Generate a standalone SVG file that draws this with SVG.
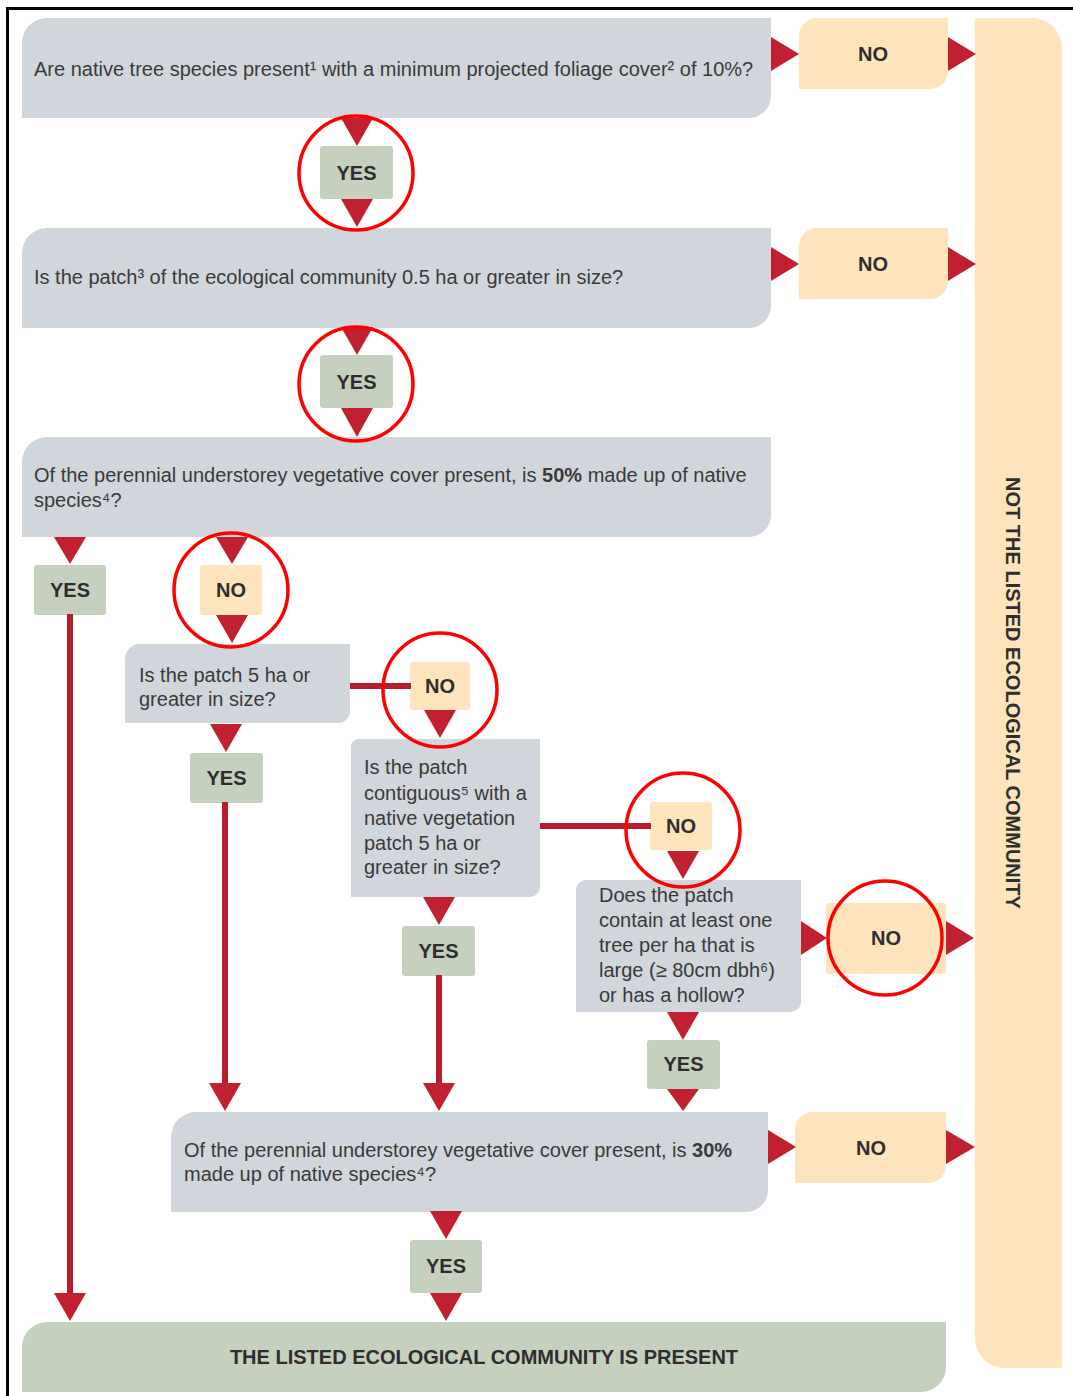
<svg xmlns="http://www.w3.org/2000/svg" width="1073" height="1396" viewBox="0 0 1073 1396">
<style>
.q{fill:#d1d5dc}
.no{fill:#fde4bc}
.yes{fill:#c6d0be}
.t{font-family:"Liberation Sans",Arial,sans-serif;font-size:20px;fill:#3a3a3a}
.l{font-family:"Liberation Sans",Arial,sans-serif;font-size:20px;font-weight:bold;fill:#2e2e2e;text-anchor:middle}
.b{font-weight:bold}
.tri{fill:#c0202f}
.ln{stroke:#b71e2d;stroke-width:6;fill:none}
.c{fill:none;stroke:#ff0000;stroke-width:3.5}
</style>
<rect x="0" y="0" width="1073" height="1396" fill="#ffffff"/>
<path d="M7.5,1396 V8.5 H1073" fill="none" stroke="#000" stroke-width="3"/>

<g id="not-listed">
<path class="no" d="M975,18 H1032 A30,30 0 0 1 1062,48 V1368 H1005 A30,30 0 0 1 975,1338 Z"/>
<text class="l" transform="translate(1013,693) rotate(90)" y="7">NOT THE LISTED ECOLOGICAL COMMUNITY</text>
</g>

<g id="q1">
<path class="q" d="M22,43 A25,25 0 0 1 47,18 H771 V96 A22,22 0 0 1 749,118 H22 Z"/>
<text class="t" x="34" y="76">Are native tree species present¹ with a minimum projected foliage cover² of 10%?</text>
</g>
<g id="no1">
<path class="no" d="M799,36 A18,18 0 0 1 817,18 H948 V71 A18,18 0 0 1 930,89 H799 Z"/>
<text class="l" x="873" y="61">NO</text>
</g>
<g id="yes1">
<rect class="yes" x="320" y="146" width="73" height="53" rx="3"/>
<text class="l" x="356.5" y="180">YES</text>
</g>

<g id="q2">
<path class="q" d="M22,253 A25,25 0 0 1 47,228 H771 V306 A22,22 0 0 1 749,328 H22 Z"/>
<text class="t" x="34" y="284">Is the patch³ of the ecological community 0.5 ha or greater in size?</text>
</g>
<g id="no2">
<path class="no" d="M799,246 A18,18 0 0 1 817,228 H948 V281 A18,18 0 0 1 930,299 H799 Z"/>
<text class="l" x="873" y="271">NO</text>
</g>
<g id="yes2">
<rect class="yes" x="320" y="355" width="73" height="53" rx="3"/>
<text class="l" x="356.5" y="389">YES</text>
</g>

<g id="q3">
<path class="q" d="M22,462 A25,25 0 0 1 47,437 H771 V515 A22,22 0 0 1 749,537 H22 Z"/>
<text class="t" x="34" y="482">Of the perennial understorey vegetative cover present, is <tspan class="b">50%</tspan> made up of native</text>
<text class="t" x="34" y="507">species⁴?</text>
</g>
<g id="yes3">
<rect class="yes" x="34" y="565" width="72" height="50" rx="3"/>
<text class="l" x="70" y="597">YES</text>
</g>
<g id="no3">
<rect class="no" x="200" y="565" width="62" height="50" rx="3"/>
<text class="l" x="231" y="597">NO</text>
</g>

<g id="q4">
<path class="q" d="M125,659 A15,15 0 0 1 140,644 H350 V711 A12,12 0 0 1 338,723 H125 Z"/>
<text class="t" x="139" y="682">Is the patch 5 ha or</text>
<text class="t" x="139" y="706">greater in size?</text>
</g>
<g id="no4">
<rect class="no" x="410" y="662" width="60" height="48" rx="3"/>
<text class="l" x="440" y="693">NO</text>
</g>
<g id="yes4">
<rect class="yes" x="190" y="753" width="73" height="50" rx="3"/>
<text class="l" x="226.5" y="785">YES</text>
</g>

<g id="q5">
<path class="q" d="M351,747 A8,8 0 0 1 359,739 H540 V887 A10,10 0 0 1 530,897 H351 Z"/>
<text class="t" x="364" y="774">Is the patch</text>
<text class="t" x="364" y="800">contiguous⁵ with a</text>
<text class="t" x="364" y="825">native vegetation</text>
<text class="t" x="364" y="850">patch 5 ha or</text>
<text class="t" x="364" y="874">greater in size?</text>
</g>
<g id="no5">
<rect class="no" x="650" y="802" width="62" height="48" rx="3"/>
<text class="l" x="681" y="833">NO</text>
</g>
<g id="yes5">
<rect class="yes" x="402" y="926" width="73" height="50" rx="3"/>
<text class="l" x="438.5" y="958">YES</text>
</g>

<g id="q6">
<path class="q" d="M576,890 A10,10 0 0 1 586,880 H801 V1002 A10,10 0 0 1 791,1012 H576 Z"/>
<text class="t" x="599" y="902">Does the patch</text>
<text class="t" x="599" y="927">contain at least one</text>
<text class="t" x="599" y="952">tree per ha that is</text>
<text class="t" x="599" y="977">large (≥ 80cm dbh⁶)</text>
<text class="t" x="599" y="1002">or has a hollow?</text>
</g>
<g id="no6">
<rect class="no" x="826" y="903" width="120" height="71" rx="3"/>
<text class="l" x="886" y="945">NO</text>
</g>
<g id="yes6">
<rect class="yes" x="647" y="1040" width="73" height="49" rx="3"/>
<text class="l" x="683.5" y="1071">YES</text>
</g>

<g id="q7">
<path class="q" d="M171,1137 A25,25 0 0 1 196,1112 H768 V1190 A22,22 0 0 1 746,1212 H171 Z"/>
<text class="t" x="184" y="1157">Of the perennial understorey vegetative cover present, is <tspan class="b">30%</tspan></text>
<text class="t" x="184" y="1181">made up of native species⁴?</text>
</g>
<g id="no7">
<path class="no" d="M795,1130 A18,18 0 0 1 813,1112 H946 V1165 A18,18 0 0 1 928,1183 H795 Z"/>
<text class="l" x="871" y="1155">NO</text>
</g>
<g id="yes7">
<rect class="yes" x="410" y="1240" width="72" height="53" rx="3"/>
<text class="l" x="446" y="1273">YES</text>
</g>

<g id="present">
<path class="yes" d="M22,1347 A25,25 0 0 1 47,1322 H946 V1367 A25,25 0 0 1 921,1392 H22 Z"/>
<text class="l" x="484" y="1364">THE LISTED ECOLOGICAL COMMUNITY IS PRESENT</text>
</g>

<g id="connectors">
<path class="ln" d="M70,614 V1296"/>
<path class="ln" d="M225,802 V1086"/>
<path class="ln" d="M439,975 V1086"/>
<path class="ln" d="M350,686 H411"/>
<path class="ln" d="M540,826 H651"/>
<polygon class="tri" points="341,118 373,118 357,146"/>
<polygon class="tri" points="341,199 373,199 357,227"/>
<polygon class="tri" points="341,327 373,327 357,355"/>
<polygon class="tri" points="341,408 373,408 357,437"/>
<polygon class="tri" points="54,537 86,537 70,564"/>
<polygon class="tri" points="216,537 248,537 232,564"/>
<polygon class="tri" points="216,615 248,615 232,643"/>
<polygon class="tri" points="210,724 242,724 226,752"/>
<polygon class="tri" points="424,710 456,710 440,738"/>
<polygon class="tri" points="423,897 455,897 439,925"/>
<polygon class="tri" points="667,851 699,851 683,879"/>
<polygon class="tri" points="667,1012 699,1012 683,1040"/>
<polygon class="tri" points="667,1089 699,1089 683,1111"/>
<polygon class="tri" points="209,1083 241,1083 225,1111"/>
<polygon class="tri" points="423,1083 455,1083 439,1111"/>
<polygon class="tri" points="430,1211 462,1211 446,1239"/>
<polygon class="tri" points="430,1293 462,1293 446,1321"/>
<polygon class="tri" points="54,1293 86,1293 70,1321"/>
<polygon class="tri" points="771,37 771,71 799,54"/>
<polygon class="tri" points="948,37 948,71 976,54"/>
<polygon class="tri" points="771,247 771,281 799,264"/>
<polygon class="tri" points="948,247 948,281 976,264"/>
<polygon class="tri" points="801,921 801,955 827,938"/>
<polygon class="tri" points="946,921 946,955 974,938"/>
<polygon class="tri" points="768,1130 768,1164 796,1147"/>
<polygon class="tri" points="946,1130 946,1164 975,1147"/>
</g>

<g id="highlights">
<circle class="c" cx="356" cy="173" r="57"/>
<circle class="c" cx="356" cy="384" r="57"/>
<circle class="c" cx="231" cy="590" r="57"/>
<circle class="c" cx="440" cy="690" r="57"/>
<circle class="c" cx="683" cy="830" r="57"/>
<circle class="c" cx="885" cy="938" r="57"/>
</g>
</svg>
